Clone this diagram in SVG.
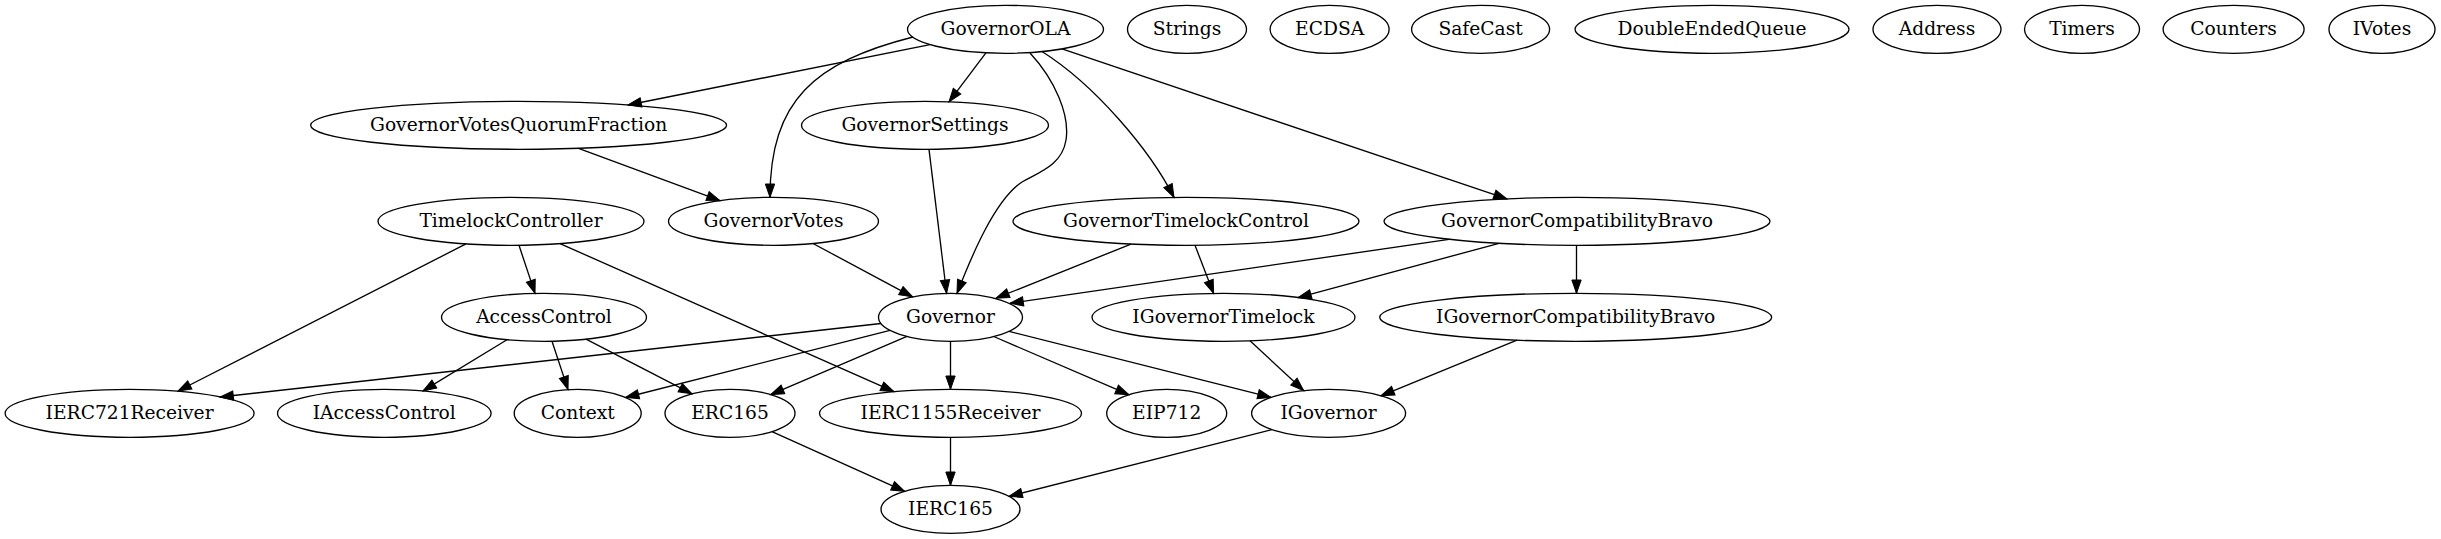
<svg xmlns="http://www.w3.org/2000/svg" width="2441" height="539" viewBox="0 0 2441 539">
<style>
.n ellipse{fill:none;stroke:#000;stroke-width:1.33}
.n text{font-family:"DejaVu Serif","Liberation Serif",serif;font-size:18.67px;text-anchor:middle;fill:#000}
.e path{fill:none;stroke:#000;stroke-width:1.33;marker-end:url(#ah)}
</style>
<defs>
<marker id="ah" markerUnits="userSpaceOnUse" markerWidth="14" markerHeight="10" refX="13.3" refY="4.67" orient="auto" overflow="visible">
<path d="M0,0 L13.3,4.67 L0,9.33 z" fill="#000" stroke="#000" stroke-width="1"/>
</marker>
</defs>
<rect width="2441" height="539" fill="#fff"/>
<g id="edges" class="e">
<path d="M930,44.6 L628,105"/>
<path d="M913,37 C815,62 770,100 770,197.3"/>
<path d="M985.9,52.8 L949,101.8"/>
<path d="M1030,53 C1055,80 1070,115 1066,140 C1062,165 1040,172 1022,182 C995,200 972,255 957,293.4"/>
<path d="M1042,51.5 C1095,85 1150,150 1174,197.4"/>
<path d="M1062,48.9 L1507,198.9"/>
<path d="M578.5,148.3 L720,200.7"/>
<path d="M929,149.3 L946.6,293.3"/>
<path d="M813,243.5 L912.6,296.9"/>
<path d="M1131,244.1 L996,298.2"/>
<path d="M1195,245.3 L1213.6,293.4"/>
<path d="M1449,239.4 L1010,303.2"/>
<path d="M1499,243.3 L1298,297.7"/>
<path d="M1576.5,245.3 L1576.5,293.3"/>
<path d="M466,243.9 L178,391"/>
<path d="M519,245.3 L535,293.4"/>
<path d="M560,243.6 L894,391.7"/>
<path d="M507,339.7 L423,390.9"/>
<path d="M552,341.2 L568,389.6"/>
<path d="M586,339.2 L692,393.8"/>
<path d="M881,323.5 L220,397"/>
<path d="M890,330.3 L625.6,397.5"/>
<path d="M907,336.4 L770.7,394.6"/>
<path d="M950.5,341.3 L950.5,389.3"/>
<path d="M993.7,336.5 L1128.8,394.7"/>
<path d="M1009,331.3 L1271,397.4"/>
<path d="M1250,340.8 L1303.7,390.6"/>
<path d="M1517,340.2 L1381,395.8"/>
<path d="M772,431.6 L904.7,491.3"/>
<path d="M950.5,437.3 L950.5,485.3"/>
<path d="M1272,429.6 L1009,496.3"/>
</g>
<g id="GovernorOLA" class="n"><ellipse cx="1005.5" cy="29.3" rx="98" ry="24"/><text x="1005.5" y="35.3">GovernorOLA</text></g>
<g id="Strings" class="n"><ellipse cx="1187" cy="29.3" rx="59.5" ry="24"/><text x="1187" y="35.3">Strings</text></g>
<g id="ECDSA" class="n"><ellipse cx="1329.6" cy="29.3" rx="59.5" ry="24"/><text x="1329.6" y="35.3">ECDSA</text></g>
<g id="SafeCast" class="n"><ellipse cx="1480.6" cy="29.3" rx="69" ry="24"/><text x="1480.6" y="35.3">SafeCast</text></g>
<g id="DoubleEndedQueue" class="n"><ellipse cx="1712" cy="29.3" rx="137" ry="24"/><text x="1712" y="35.3">DoubleEndedQueue</text></g>
<g id="Address" class="n"><ellipse cx="1937" cy="29.3" rx="64" ry="24"/><text x="1937" y="35.3">Address</text></g>
<g id="Timers" class="n"><ellipse cx="2082" cy="29.3" rx="57.5" ry="24"/><text x="2082" y="35.3">Timers</text></g>
<g id="Counters" class="n"><ellipse cx="2233.6" cy="29.3" rx="70.5" ry="24"/><text x="2233.6" y="35.3">Counters</text></g>
<g id="IVotes" class="n"><ellipse cx="2382" cy="29.3" rx="53" ry="24"/><text x="2382" y="35.3">IVotes</text></g>
<g id="GovernorVotesQuorumFraction" class="n"><ellipse cx="518.6" cy="125.3" rx="208" ry="24"/><text x="518.6" y="131.3">GovernorVotesQuorumFraction</text></g>
<g id="GovernorSettings" class="n"><ellipse cx="925" cy="125.3" rx="123.5" ry="24"/><text x="925" y="131.3">GovernorSettings</text></g>
<g id="TimelockController" class="n"><ellipse cx="511" cy="221.3" rx="133" ry="24"/><text x="511" y="227.3">TimelockController</text></g>
<g id="GovernorVotes" class="n"><ellipse cx="773.5" cy="221.3" rx="105" ry="24"/><text x="773.5" y="227.3">GovernorVotes</text></g>
<g id="GovernorTimelockControl" class="n"><ellipse cx="1186" cy="221.3" rx="173" ry="24"/><text x="1186" y="227.3">GovernorTimelockControl</text></g>
<g id="GovernorCompatibilityBravo" class="n"><ellipse cx="1577" cy="221.3" rx="193" ry="24"/><text x="1577" y="227.3">GovernorCompatibilityBravo</text></g>
<g id="AccessControl" class="n"><ellipse cx="544" cy="317.3" rx="102.5" ry="24"/><text x="544" y="323.3">AccessControl</text></g>
<g id="Governor" class="n"><ellipse cx="950.5" cy="317.3" rx="72" ry="24"/><text x="950.5" y="323.3">Governor</text></g>
<g id="IGovernorTimelock" class="n"><ellipse cx="1223.5" cy="317.3" rx="131.5" ry="24"/><text x="1223.5" y="323.3">IGovernorTimelock</text></g>
<g id="IGovernorCompatibilityBravo" class="n"><ellipse cx="1575.7" cy="317.3" rx="196" ry="24"/><text x="1575.7" y="323.3">IGovernorCompatibilityBravo</text></g>
<g id="IERC721Receiver" class="n"><ellipse cx="129.6" cy="413.3" rx="124.5" ry="24"/><text x="129.6" y="419.3">IERC721Receiver</text></g>
<g id="IAccessControl" class="n"><ellipse cx="384.3" cy="413.3" rx="106.8" ry="24"/><text x="384.3" y="419.3">IAccessControl</text></g>
<g id="Context" class="n"><ellipse cx="577.7" cy="413.3" rx="63.5" ry="24"/><text x="577.7" y="419.3">Context</text></g>
<g id="ERC165" class="n"><ellipse cx="730" cy="413.3" rx="65" ry="24"/><text x="730" y="419.3">ERC165</text></g>
<g id="IERC1155Receiver" class="n"><ellipse cx="950.5" cy="413.3" rx="131" ry="24"/><text x="950.5" y="419.3">IERC1155Receiver</text></g>
<g id="EIP712" class="n"><ellipse cx="1166.7" cy="413.3" rx="60" ry="24"/><text x="1166.7" y="419.3">EIP712</text></g>
<g id="IGovernor" class="n"><ellipse cx="1328.6" cy="413.3" rx="77" ry="24"/><text x="1328.6" y="419.3">IGovernor</text></g>
<g id="IERC165" class="n"><ellipse cx="950.5" cy="509.3" rx="69.5" ry="24"/><text x="950.5" y="515.3">IERC165</text></g>
</svg>
